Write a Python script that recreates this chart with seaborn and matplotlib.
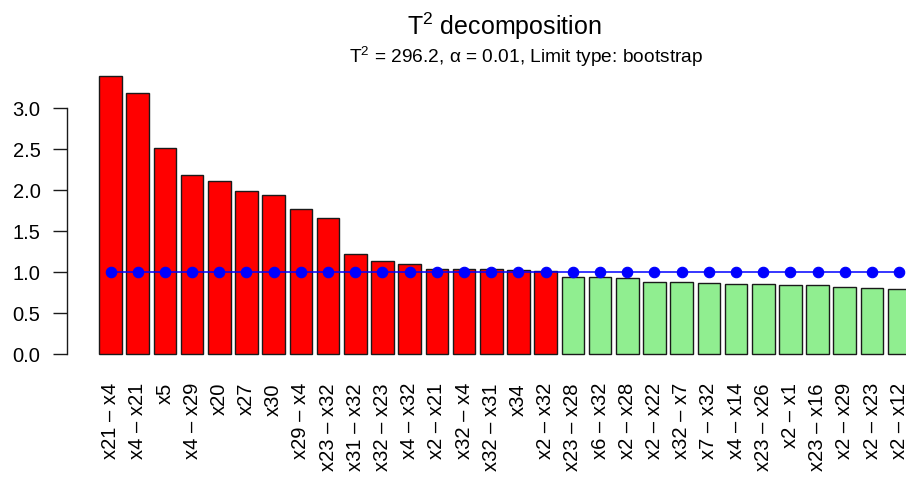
import matplotlib
matplotlib.use("Agg")
import matplotlib.pyplot as plt
import seaborn as sns
import pandas as pd

# Contribution of each variable / variable pair to T^2
labels = ["x21 – x4", "x4 – x21", "x5", "x4 – x29", "x20", "x27", "x30",
          "x29 – x4", "x23 – x32", "x31 – x32", "x32 – x23", "x4 – x32",
          "x2 – x21", "x32 – x4", "x32 – x31", "x34", "x2 – x32",
          "x23 – x28", "x6 – x32", "x2 – x28", "x2 – x22", "x32 – x7",
          "x7 – x32", "x4 – x14", "x23 – x26", "x2 – x1", "x23 – x16",
          "x2 – x29", "x2 – x23", "x2 – x12"]
values = [3.39, 3.19, 2.52, 2.18, 2.11, 1.99, 1.945, 1.775, 1.66, 1.22,
          1.14, 1.10, 1.04, 1.04, 1.035, 1.03, 1.01,
          0.94, 0.94, 0.925, 0.88, 0.877, 0.865, 0.857, 0.853, 0.845,
          0.84, 0.815, 0.806, 0.79]
limits = [1.0] * len(labels)

sns.set_style("white")
plt.rcParams["font.family"] = ["Liberation Sans", "DejaVu Sans"]
plt.rcParams["mathtext.fontset"] = "custom"
plt.rcParams["mathtext.rm"] = "Liberation Sans"
plt.rcParams["mathtext.it"] = "Liberation Sans:italic"
for key in ["text.color", "axes.labelcolor", "xtick.color", "ytick.color"]:
    plt.rcParams[key] = "black"

df = pd.DataFrame({"term": labels, "value": values, "limit": limits})
df["above"] = df["value"] > df["limit"]

fig = plt.figure(figsize=(9.06, 4.79), dpi=100)
ax = fig.add_axes([67 / 906, 1 - 365 / 479, (906 - 67) / 906, 295 / 479])

sns.barplot(data=df, x="term", y="value", hue="above",
            palette={True: "#ff0000", False: "#90ee90"}, dodge=False,
            saturation=1, width=0.833, edgecolor="#1a1a1a", linewidth=1.0,
            legend=False, ax=ax, order=labels)
sns.pointplot(data=df, x="term", y="limit", color="#0000ff", markers="o",
              linestyles="-", linewidth=1.1, markersize=7.5,
              ax=ax, order=labels)

ax.set_xlim(-1.6, 29.25)
ax.set_ylim(-0.134, 3.468)
ax.set_xlabel("")
ax.set_ylabel("")
for s in ["top", "right", "bottom"]:
    ax.spines[s].set_visible(False)
ax.spines["left"].set_bounds(0, 3.0)
ax.spines["left"].set_linewidth(1.0)
ax.spines["left"].set_color("#1a1a1a")
ax.set_yticks([0, 0.5, 1.0, 1.5, 2.0, 2.5, 3.0])
ax.set_yticklabels(["0.0", "0.5", "1.0", "1.5", "2.0", "2.5", "3.0"])
ax.tick_params(axis="y", left=True, length=10, width=1.0, pad=9,
               labelsize=14.5, color="#1a1a1a", labelcolor="black")
ax.tick_params(axis="x", bottom=False, length=0, pad=13, labelsize=14.5,
               labelrotation=90, labelcolor="black")
for t in ax.get_xticklabels():
    t.set_verticalalignment("top")
    t.set_horizontalalignment("center")

fig.text(504 / 906, 1 - 34.5 / 479, "T$^2$ decomposition", ha="center",
         va="baseline", fontsize=18, color="black")
fig.text(526.5 / 906, 1 - 63 / 479,
         "T$^2$ = 296.2, α = 0.01, Limit type: bootstrap", ha="center",
         va="baseline", fontsize=13.8, color="black")

fig.savefig("out.png", dpi=100)
